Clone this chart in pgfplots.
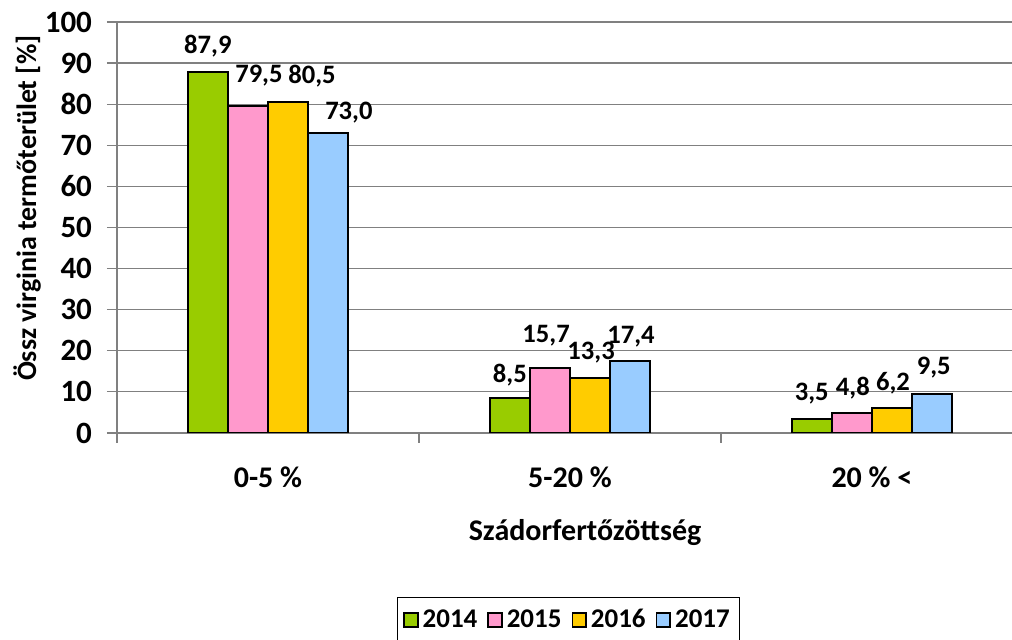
\documentclass[border=0pt]{standalone}
\usepackage{fontspec}
\setmainfont{Carlito}
\usepackage{pgfplots}
\pgfplotsset{compat=1.18}
\definecolor{cA}{HTML}{99CC00}
\definecolor{cB}{HTML}{FF99CC}
\definecolor{cC}{HTML}{FFCC00}
\definecolor{cD}{HTML}{99CCFF}
\definecolor{gridc}{HTML}{808080}
\begin{document}
\begin{tikzpicture}
\begin{axis}[
  at={(0,0)}, anchor=south west,
  scale only axis, width=447.5pt, height=205.5pt,
  ybar, bar width=20pt, ybar=0pt,
  xmin=-0.5, xmax=2.464, ymin=0, ymax=100,
  ytick={0,10,...,100},
  xtick={0,1,2}, xticklabels={0-5 \%, 5-20 \%, 20 \% <},
  minor xtick={-0.5,0.5,1.5},
  axis x line*=bottom, axis y line*=left,
  axis line style={draw=gridc, line width=0.6pt, -},
  tick align=outside,
  major tick length=5pt, minor tick length=5pt,
  major x tick style={draw=none},
  minor x tick style={draw=gridc, line width=0.6pt},
  y tick style={draw=gridc, line width=0.6pt},
  ymajorgrids, grid style={draw=gridc, line width=0.6pt},
  /pgf/number format/assume math mode=true,
  yticklabel style={font=\fontsize{15.5}{17}\selectfont\bfseries, xshift=-4pt},
  xticklabel style={font=\fontsize{15}{17}\selectfont\bfseries, anchor=center, yshift=-17pt},
  ylabel={Össz virginia termőterület [\%]},
  ylabel style={font=\fontsize{14}{16}\selectfont\bfseries, at={(axis description cs:-0.1005,0.547)}, anchor=center},
  xlabel={Szádorfertőzöttség},
  xlabel style={font=\fontsize{15}{17}\selectfont\bfseries, at={(axis description cs:0.523,-0.2433)}, anchor=center},
  legend columns=4,
  legend style={at={(axis description cs:0.5045,-0.455)}, anchor=center, draw=black, line width=0.5pt,
    font=\fontsize{13.5}{15}\selectfont\bfseries, inner xsep=3pt, inner ysep=4pt,
    /tikz/every even column/.append style={column sep=3pt}},
  legend image code/.code={\draw[#1, draw=black, line width=0.9pt] (0pt,-3.4pt) rectangle (6.8pt,3.4pt);},
  every axis plot/.append style={draw=black, line width=1pt},
]
\addplot[fill=cA] coordinates {(0,87.9) (1,8.5) (2,3.5)};
\addplot[fill=cB] coordinates {(0,79.5) (1,15.7) (2,4.8)};
\addplot[fill=cC] coordinates {(0,80.5) (1,13.3) (2,6.2)};
\addplot[fill=cD] coordinates {(0,73.0) (1,17.4) (2,9.5)};
\legend{2014,2015,2016,2017}
\begin{scope}[every node/.style={font=\fontsize{13.3}{15}\selectfont\bfseries, anchor=center}]
\node at (axis cs:-0.199,94.2) {87,9};
\node at (axis cs:-0.030,86.9) {79,5};
\node at (axis cs:0.146,86.9) {80,5};
\node at (axis cs:0.268,77.9) {73,0};
\node at (axis cs:0.801,14.1) {8,5};
\node at (axis cs:0.921,23.8) {15,7};
\node at (axis cs:1.070,19.5) {13,3};
\node at (axis cs:1.202,23.4) {17,4};
\node at (axis cs:1.801,9.7) {3,5};
\node at (axis cs:1.937,10.9) {4,8};
\node at (axis cs:2.070,12.2) {6,2};
\node at (axis cs:2.205,15.8) {9,5};
\end{scope}
\end{axis}
\pgfresetboundingbox
\path (-58.5pt,-103.5pt) rectangle (447.5pt,216.5pt);
\end{tikzpicture}
\end{document}
